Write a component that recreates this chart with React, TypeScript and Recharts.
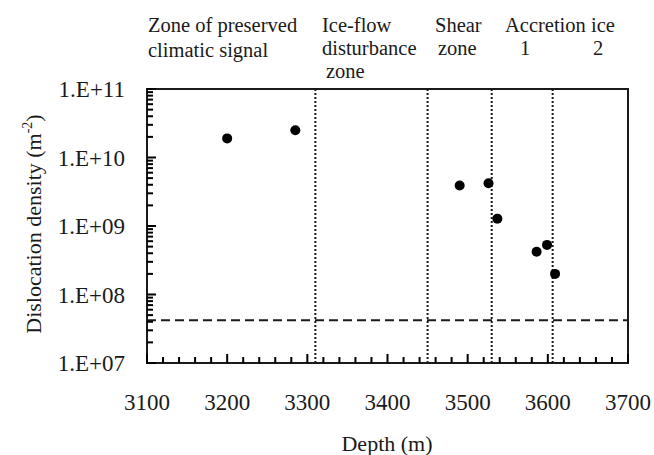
import React from 'react';
import { ScatterChart, Scatter, XAxis, YAxis, ReferenceLine, ReferenceArea } from 'recharts';

const depths = [3200, 3285, 3490, 3526, 3537, 3586, 3599, 3609];
const densities = [1.9e10, 2.5e10, 3.9e9, 4.2e9, 1.28e9, 4.2e8, 5.3e8, 2.0e8];
const zoneBounds = [3310, 3450, 3530, 3606];
const threshold = 4.2e7;

const xMajorTicks = [3100, 3200, 3300, 3400, 3500, 3600, 3700];
const yMajorTicks = [1e7, 1e8, 1e9, 1e10, 1e11];
const yTickLabels = ['1.E+07', '1.E+08', '1.E+09', '1.E+10', '1.E+11'];

const points = depths.map((d, i) => ({ depth: d, density: densities[i] }));

// inward tick marks: every 20 m on x, 1..9 per decade on y
const xTickMarks: { depth: number; density: number; major: boolean }[] = [];
for (let v = 3100; v <= 3700; v += 20) xTickMarks.push({ depth: v, density: 1e7, major: xMajorTicks.includes(v) });
const yTickMarks: { depth: number; density: number; major: boolean }[] = [];
yMajorTicks.forEach((m, i) => {
  yTickMarks.push({ depth: 3100, density: m, major: true });
  if (i < yMajorTicks.length - 1)
    for (let k = 2; k <= 9; k++) yTickMarks.push({ depth: 3100, density: m * k, major: false });
});

const FONT = '"Liberation Serif", "Times New Roman", serif';
const INK = '#1a1a1a';

const XTick = (props: any) => {
  const { x, y, payload } = props;
  return (
    <text x={x} y={y + 47} textAnchor="middle" fontSize={23} fontFamily={FONT} fill={INK}>
      {payload.value}
    </text>
  );
};

const YTick = (props: any) => {
  const { x, y, payload } = props;
  const idx = yMajorTicks.indexOf(payload.value);
  return (
    <text x={x - 22} y={y} dy="0.35em" textAnchor="end" fontSize={23} fontFamily={FONT} fill={INK}>
      {yTickLabels[idx]}
    </text>
  );
};

const Dot = (props: any) => <circle cx={props.cx} cy={props.cy} r={5} fill="#000" />;

const XMark = (props: any) => {
  const len = props.payload && props.payload.major ? 9 : 6;
  return <rect x={props.cx - 1} y={props.cy - len} width={2} height={len} fill="#000" />;
};

const YMark = (props: any) => {
  const len = props.payload && props.payload.major ? 9 : 6;
  return <rect x={props.cx} y={props.cy - 1} width={len} height={2} fill="#000" />;
};

export default function App() {
  const topStyle = { fontSize: 20.5, fontFamily: FONT, fill: INK } as const;
  return (
    <div style={{ position: 'absolute', left: 0, top: 0, width: 654, height: 455, background: '#fff' }}>
      <ScatterChart width={654} height={455} margin={{ top: 89, right: 26, bottom: 0, left: 0 }}>
        <XAxis
          type="number"
          dataKey="depth"
          domain={[3100, 3700]}
          ticks={xMajorTicks}
          interval={0}
          height={92}
          axisLine={false}
          tickLine={false}
          tickSize={0}
          tickMargin={0}
          tick={<XTick />}
        />
        <YAxis
          type="number"
          dataKey="density"
          scale="log"
          domain={[1e7, 1e11]}
          ticks={yMajorTicks}
          interval={0}
          width={147}
          axisLine={false}
          tickLine={false}
          tickSize={0}
          tickMargin={0}
          tick={<YTick />}
        />
        {zoneBounds.map((b) => (
          <ReferenceLine key={b} x={b} stroke={INK} strokeWidth={2} strokeDasharray="2 2" />
        ))}
        <ReferenceLine y={threshold} stroke={INK} strokeWidth={2} strokeDasharray="9 5" />
        <ReferenceArea x1={3100} x2={3700} y1={1e7} y2={1e11} fill="none" fillOpacity={0} stroke={INK} strokeWidth={2} />
        <Scatter data={xTickMarks} shape={<XMark />} isAnimationActive={false} />
        <Scatter data={yTickMarks} shape={<YMark />} isAnimationActive={false} />
        <Scatter data={points} shape={<Dot />} isAnimationActive={false} />
      </ScatterChart>
      <svg width={654} height={455} style={{ position: 'absolute', left: 0, top: 0, pointerEvents: 'none' }}>
        <text x={148} y={32} {...topStyle}>Zone of preserved</text>
        <text x={148} y={57} {...topStyle}>climatic signal</text>
        <text x={322} y={32} {...topStyle}>Ice-flow</text>
        <text x={322} y={55} {...topStyle}>disturbance</text>
        <text x={326} y={78} {...topStyle}>zone</text>
        <text x={435} y={32} {...topStyle}>Shear</text>
        <text x={438} y={55} {...topStyle}>zone</text>
        <text x={505} y={32} {...topStyle}>Accretion ice</text>
        <text x={520} y={55} {...topStyle}>1</text>
        <text x={593} y={55} {...topStyle}>2</text>
        <text x={387} y={451} textAnchor="middle" fontSize={22} fontFamily={FONT} fill={INK}>Depth (m)</text>
        <text transform="translate(41,224) rotate(-90)" textAnchor="middle" fontSize={22} fontFamily={FONT} fill={INK}>
          Dislocation density (m<tspan dy={-9} fontSize={14}>-2</tspan><tspan dy={9}>)</tspan>
        </text>
      </svg>
    </div>
  );
}
